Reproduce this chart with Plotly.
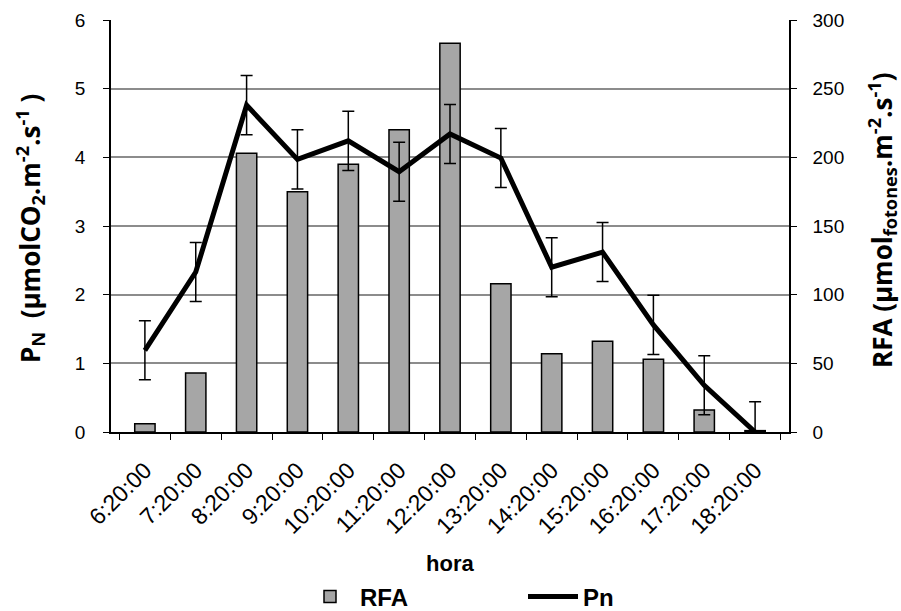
import plotly.graph_objects as go

horas = ["6:20:00", "7:20:00", "8:20:00", "9:20:00", "10:20:00", "11:20:00",
         "12:20:00", "13:20:00", "14:20:00", "15:20:00", "16:20:00", "17:20:00", "18:20:00"]
rfa = [6, 43, 203, 175, 195, 220, 283, 108, 57, 66, 53, 16, 1]
pn = [1.19, 2.33, 4.76, 3.97, 4.24, 3.79, 4.34, 3.99, 2.40, 2.62, 1.56, 0.68, 0.0]
pn_err = [0.43, 0.43, 0.43, 0.43, 0.43, 0.43, 0.43, 0.43, 0.43, 0.43, 0.43, 0.43, 0.44]

sans = "Liberation Sans, Arial, sans-serif"
title_font = "Open Sans, sans-serif"
narrow = "Liberation Sans Narrow, Arial Narrow, sans-serif"
ytick_font = dict(family=sans, size=19, color="black")
xtick_font = dict(family=sans, size=23, color="black")

fig = go.Figure()
fig.add_trace(go.Bar(
    x=horas, y=rfa, name="RFA", yaxis="y", width=0.4,
    marker=dict(color="#a6a6a6", line=dict(color="black", width=1.5)),
))
fig.add_trace(go.Scatter(
    x=horas, y=pn, name="Pn", yaxis="y2", mode="lines",
    line=dict(color="black", width=5),
    error_y=dict(type="data", array=pn_err, visible=True, color="black",
                 thickness=1.5, width=6),
))

fig.update_layout(
    width=901, height=611,
    margin=dict(l=111, r=112, t=20, b=179),
    plot_bgcolor="white", paper_bgcolor="white",
    showlegend=True,
    legend=dict(orientation="h", xref="container", yref="container",
                x=300 / 901, xanchor="left", y=1 - 597 / 611, yanchor="middle",
                font=dict(family=narrow, size=24, color="black", weight="bold"),
                itemwidth=50, entrywidth=158, traceorder="normal"),
    xaxis=dict(type="category", tickangle=-45, tickfont=xtick_font, automargin=False,
               showline=True, linecolor="black", linewidth=1.5,
               ticks="outside", tickson="boundaries", ticklen=6, tickcolor="black",
               ticklabelstandoff=14, showgrid=False),
    yaxis=dict(side="right", range=[0, 300], dtick=50, tickfont=ytick_font, automargin=False,
               showline=True, linecolor="black", linewidth=1.5,
               ticks="outside", ticklen=6, tickcolor="black", ticklabelstandoff=12,
               showgrid=True, gridcolor="#8c8c8c", gridwidth=1.5, zeroline=False),
    yaxis2=dict(side="left", overlaying="y", range=[0, 6], dtick=1, tickfont=ytick_font,
                automargin=False,
                showline=True, linecolor="black", linewidth=1.5,
                ticks="outside", ticklen=6, tickcolor="black", ticklabelstandoff=14,
                showgrid=False, zeroline=False),
    annotations=[
        dict(text="<b>hora</b>", xref="paper", yref="paper", x=0.5, y=-0.318,
             xanchor="center", yanchor="middle", showarrow=False,
             font=dict(family=narrow, size=22, color="black")),
        dict(text="<b>P<sub>N</sub>  (µmolCO<sub>2</sub>.m<sup>-2</sup>.s<sup>-1</sup> )</b>",
             xref="paper", yref="paper", x=(30 - 111) / 678, y=(432 - 229) / 412,
             xanchor="center", yanchor="middle", textangle=-90, showarrow=False,
             font=dict(family=title_font, size=26, color="black")),
        dict(text="<b>RFA (µmol<sub>fotones</sub>.m<sup>-2</sup>.s<sup>-1</sup>)</b>",
             xref="paper", yref="paper", x=(882 - 111) / 678, y=(432 - 220) / 412,
             xanchor="center", yanchor="middle", textangle=-90, showarrow=False,
             font=dict(family=title_font, size=26, color="black")),
    ],
)

fig.write_html("out.html")
